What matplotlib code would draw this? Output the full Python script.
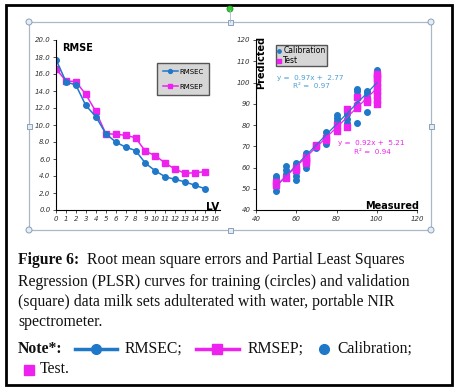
import numpy as np
import matplotlib.pyplot as plt
from matplotlib.patches import Rectangle, Circle

# RMSE curves vs latent variables
lv = list(range(16))
rmsec = [17.7, 15.1, 14.7, 12.3, 11.0, 9.0, 8.0, 7.4, 7.0, 5.5, 4.6, 3.9, 3.6, 3.3, 2.9, 2.5]
rmsep = [16.6, 15.2, 15.1, 13.6, 11.6, 9.0, 8.9, 8.8, 8.5, 6.9, 6.4, 5.5, 4.8, 4.3, 4.4, 4.5]

# PLSR measured vs predicted
cal_meas = [50]*5 + [55]*4 + [60]*6 + [65]*5 + [70]*2 + [75]*4 + [80]*5 + [85]*4 + [90]*5 + [95]*5 + [100]*7
cal_pred = [49, 51, 53, 55, 56,
            55, 57, 59, 60.5,
            54, 56, 58, 60, 61, 62,
            60, 62, 64, 66, 67,
            69, 70,
            71, 73, 75, 76.5,
            78, 80, 82, 83.5, 84.5,
            81, 83, 85, 86,
            81, 90, 94, 96, 97,
            86, 91, 93, 95, 96,
            94, 96, 98, 100, 102, 104, 106]
test_meas = [50]*2 + [55] + [60]*2 + [65]*4 + [70]*2 + [75]*2 + [80]*2 + [85]*2 + [90]*3 + [95]*2 + [100]*9
test_pred = [52, 53,
             55,
             59, 60,
             62, 63, 64, 65,
             70, 70.5,
             73, 74,
             77, 80,
             79, 87.5,
             88, 89, 93,
             91, 92,
             90, 92, 94, 96, 98, 100, 102, 103, 104]
cal_fit = (0.97, 2.77, 0.97)
test_fit = (0.92, 5.21, 0.94)

BLUE = '#1f78c8'
MAG = '#ee22ee'
W, H = 461, 390

fig = plt.figure(figsize=(W / 100, H / 100), dpi=100)


def px(x0, y0, x1, y1):
    return [x0 / W, 1 - y1 / H, (x1 - x0) / W, (y1 - y0) / H]


ov = fig.add_axes([0, 0, 1, 1])
ov.set_xlim(0, W)
ov.set_ylim(H, 0)
ov.axis('off')

# outer border and chart frame with handles
ov.add_patch(Rectangle((6, 5), 446, 380, fill=False, ec='black', lw=2))
ov.add_patch(Rectangle((29, 22), 402, 208, fill=False, ec='#a8b8c8', lw=0.9))
ov.plot([230, 230], [10, 22], color='#a8b8c8', lw=0.6)
ov.add_patch(Circle((230, 9), 3, fc='#33cc33', ec='#229922', lw=0.6))
for (x, y) in [(29, 22), (431, 22), (29, 230), (431, 230)]:
    ov.add_patch(Circle((x, y), 3, fc='#e4ecf4', ec='#8aa0b8', lw=0.7))
for (x, y) in [(230, 22), (29, 126), (431, 126), (230, 230)]:
    ov.add_patch(Rectangle((x - 2.5, y - 2.5), 5, 5, fc='#e4ecf4', ec='#8aa0b8', lw=0.7))

tick_kw = dict(labelsize=5, length=2.5, width=0.6, color='#333333', labelcolor='#333333', pad=1.5)

# left: RMSE
ax1 = fig.add_axes(px(56, 40, 220, 210))
ax1.set_facecolor('none')
l1, = ax1.plot(lv, rmsec, '-o', color=BLUE, ms=4, lw=1.1, label='RMSEC')
l2, = ax1.plot(lv, rmsep, '-s', color=MAG, ms=4, lw=1.1, label='RMSEP', zorder=1)
ax1.set_xlim(0, 16.5)
ax1.set_ylim(0, 20)
ax1.set_xticks(range(17))
ax1.set_yticks(np.arange(0, 21, 2))
ax1.set_yticklabels([f'{v:.1f}' for v in np.arange(0, 21, 2)])
for s in ['top', 'right']:
    ax1.spines[s].set_visible(False)
ax1.tick_params(**tick_kw)
for t in ax1.get_xticklabels() + ax1.get_yticklabels():
    t.set_fontstyle('italic')
ax1.legend(handles=[l1, l2], loc='upper left', bbox_to_anchor=(157 / W, 1 - 63 / H),
           bbox_transform=fig.transFigure, fancybox=False, facecolor='#d6d6d6',
           edgecolor='#555555', framealpha=1, fontsize=5, handlelength=2.2,
           labelspacing=1.3, borderpad=0.8, handletextpad=0.2, markerscale=0.7,
           borderaxespad=0)
ov.text(62, 48, 'RMSE', fontsize=7, fontweight='bold', va='center')
ov.text(219, 207, 'LV', fontsize=7.5, fontweight='bold', ha='right', va='center')

# right: measured vs predicted
ax2 = fig.add_axes(px(256, 40, 417, 210))
ax2.set_facecolor('none')
ax2.scatter(cal_meas, cal_pred, s=16, color=BLUE, marker='o', label='Calibration', zorder=2)
ax2.scatter(test_meas, test_pred, s=14, color=MAG, marker='s', label='Test', zorder=3)
xs = np.array([min(cal_meas), max(cal_meas)])
ax2.plot(xs, cal_fit[0] * xs + cal_fit[1], color=BLUE, lw=0.9, zorder=4)
ax2.plot(xs, test_fit[0] * xs + test_fit[1], color=MAG, lw=0.9, zorder=4)
ax2.set_xlim(40, 120)
ax2.set_ylim(40, 120)
ax2.set_xticks(range(40, 121, 20))
ax2.set_yticks(range(40, 121, 10))
for s in ['top', 'right']:
    ax2.spines[s].set_visible(False)
ax2.tick_params(**tick_kw)
for t in ax2.get_xticklabels() + ax2.get_yticklabels():
    t.set_fontstyle('italic')
ax2.legend(loc='upper left', bbox_to_anchor=(276 / W, 1 - 45 / H),
           bbox_transform=fig.transFigure, fancybox=False, facecolor='#d6d6d6',
           edgecolor='#555555', framealpha=1, fontsize=5.5, handlelength=0.6,
           labelspacing=0.05, borderpad=0.15, handletextpad=0.2, markerscale=0.6,
           borderaxespad=0)
ann = dict(fontsize=5.2, ha='center', va='center')
ov.text(310, 78, f'y =  {cal_fit[0]:.2f}x +  {cal_fit[1]:.2f}', color='#4a9fd8', **ann)
ov.text(311, 86.5, f'R² =  {cal_fit[2]:.2f}', color='#4a9fd8', **ann)
ov.text(371, 143, f'y =  {test_fit[0]:.2f}x +  {test_fit[1]:.2f}', color=MAG, **ann)
ov.text(372, 151.5, f'R² =  {test_fit[2]:.2f}', color=MAG, **ann)
ov.text(261, 62, 'Predicted', rotation=90, fontsize=7, fontweight='bold', ha='center', va='center')
ov.text(419, 206, 'Measured', fontsize=7, fontweight='bold', ha='right', va='center')

# caption
cap = dict(family='Liberation Serif', fontsize=11.3, va='center', color='#111111')
ov.text(18, 260, 'Figure 6:', fontweight='bold', **cap)
ov.text(87, 260, 'Root mean square errors and Partial Least Squares', **cap)
ov.text(18, 282, 'Regression (PLSR) curves for training (circles) and validation', **cap)
ov.text(18, 302, '(square) data milk sets adulterated with water, portable NIR', **cap)
ov.text(18, 322, 'spectrometer.', **cap)
ov.text(18, 349, 'Note*:', fontweight='bold', **cap)
ov.plot([75, 117], [349, 349], color=BLUE, lw=2.5)
ov.plot([96], [349], marker='o', ms=7, color=BLUE)
ov.text(125, 349, 'RMSEC;', **cap)
ov.plot([196, 239], [349, 349], color=MAG, lw=2.5)
ov.plot([217], [349], marker='s', ms=6.5, color=MAG)
ov.text(248, 349, 'RMSEP;', **cap)
ov.plot([324], [349], marker='o', ms=7, color=BLUE)
ov.text(337, 349, 'Calibration;', **cap)
ov.plot([29], [370], marker='s', ms=6.5, color=MAG)
ov.text(40, 369, 'Test.', **cap)

fig.savefig('out.png', dpi=100)
